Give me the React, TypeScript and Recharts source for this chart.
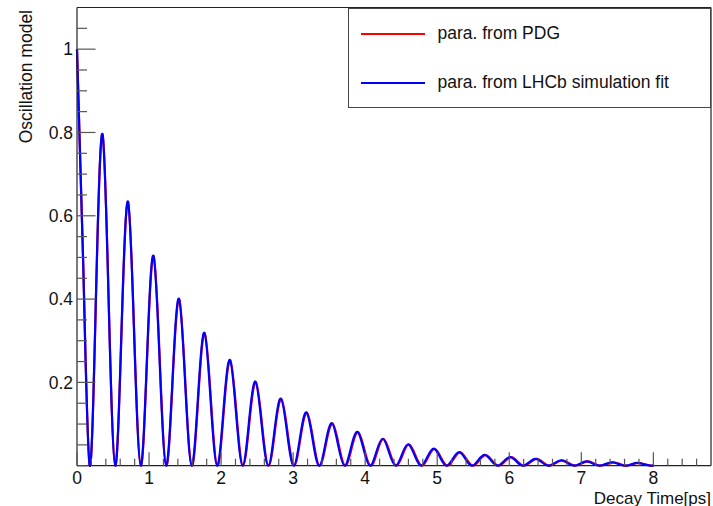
import { LineChart, Line, XAxis, YAxis, Legend, ReferenceLine } from "recharts";

// decay time [ps] and oscillation model value
const lhcbTime = [
  0, 0.088, 0.177, 0.265, 0.354, 0.442, 0.531, 0.619, 0.708, 0.796, 0.885, 0.973, 1.061, 1.15, 1.238, 1.327,
  1.415, 1.504, 1.592, 1.681, 1.769, 1.857, 1.946, 2.034, 2.123, 2.211, 2.3, 2.388, 2.477, 2.565, 2.654, 2.742,
  2.83, 2.919, 3.007, 3.096, 3.184, 3.273, 3.361, 3.45, 3.538, 3.626, 3.715, 3.803, 3.892, 3.98, 4.069, 4.157,
  4.246, 4.334, 4.423, 4.511, 4.599, 4.688, 4.776, 4.865, 4.953, 5.042, 5.13, 5.219, 5.307, 5.395, 5.484, 5.572,
  5.661, 5.749, 5.838, 5.926, 6.015, 6.103, 6.192, 6.28, 6.368, 6.457, 6.545, 6.634, 6.722, 6.811, 6.899, 6.988,
  7.076, 7.164, 7.253, 7.341, 7.43, 7.518, 7.607, 7.695, 7.784, 7.872, 7.961, 8.0,
];
const lhcbValue = [
  1, 0.472, 0, 0.421, 0.796, 0.376, 0, 0.335, 0.634, 0.299, 0, 0.267, 0.504, 0.238, 0, 0.212,
  0.401, 0.19, 0, 0.169, 0.319, 0.151, 0, 0.135, 0.254, 0.12, 0, 0.107, 0.202, 0.0956, 0, 0.0853,
  0.161, 0.0761, 0, 0.0679, 0.128, 0.0605, 0, 0.054, 0.102, 0.0482, 0, 0.043, 0.0812, 0.0383, 0, 0.0342,
  0.0646, 0.0305, 0, 0.0272, 0.0514, 0.0243, 0, 0.0217, 0.0409, 0.0193, 0, 0.0172, 0.0326, 0.0154, 0, 0.0137,
  0.0259, 0.0122, 0, 0.0109, 0.0206, 0.0097, 0, 0.0087, 0.0164, 0.0077, 0, 0.0069, 0.0131, 0.0062, 0, 0.0055,
  0.0104, 0.0049, 0, 0.0044, 0.0083, 0.0039, 0, 0.0035, 0.0066, 0.0031, 0, 0.0007,
];

const pdgTime = [
  0, 0.089, 0.177, 0.266, 0.355, 0.443, 0.532, 0.621, 0.709, 0.798, 0.887, 0.975, 1.064, 1.153, 1.241, 1.33,
  1.419, 1.507, 1.596, 1.685, 1.773, 1.862, 1.951, 2.039, 2.128, 2.217, 2.305, 2.394, 2.483, 2.571, 2.66, 2.749,
  2.837, 2.926, 3.015, 3.103, 3.192, 3.281, 3.369, 3.458, 3.547, 3.636, 3.724, 3.813, 3.902, 3.99, 4.079, 4.168,
  4.256, 4.345, 4.434, 4.522, 4.611, 4.7, 4.788, 4.877, 4.966, 5.054, 5.143, 5.232, 5.32, 5.409, 5.498, 5.586,
  5.675, 5.764, 5.852, 5.941, 6.03, 6.118, 6.207, 6.296, 6.384, 6.473, 6.562, 6.65, 6.739, 6.828, 6.916, 7.005,
  7.094, 7.182, 7.271, 7.36, 7.448, 7.537, 7.626, 7.714, 7.803, 7.892, 7.98, 8.0,
];
const pdgValue = [
  1, 0.472, 0, 0.421, 0.795, 0.375, 0, 0.334, 0.633, 0.298, 0, 0.266, 0.503, 0.237, 0, 0.212,
  0.4, 0.189, 0, 0.168, 0.318, 0.15, 0, 0.134, 0.253, 0.119, 0, 0.106, 0.201, 0.095, 0, 0.0848,
  0.16, 0.0756, 0, 0.0674, 0.127, 0.06, 0, 0.0536, 0.101, 0.0478, 0, 0.0426, 0.0805, 0.038, 0, 0.0339,
  0.064, 0.0302, 0, 0.0269, 0.0509, 0.024, 0, 0.0214, 0.0405, 0.0191, 0, 0.017, 0.0322, 0.0152, 0, 0.0135,
  0.0256, 0.0121, 0, 0.0108, 0.0204, 0.0096, 0, 0.0086, 0.0162, 0.0076, 0, 0.0068, 0.0129, 0.0061, 0, 0.0054,
  0.0102, 0.0048, 0, 0.0043, 0.0082, 0.0038, 0, 0.0034, 0.0065, 0.003, 0, 0.0001,
];

const xTicks = [
  0, 0.2, 0.4, 0.6, 0.8, 1, 1.2, 1.4, 1.6, 1.8, 2, 2.2, 2.4, 2.6, 2.8, 3, 3.2, 3.4, 3.6, 3.8, 4, 4.2, 4.4,
  4.6, 4.8, 5, 5.2, 5.4, 5.6, 5.8, 6, 6.2, 6.4, 6.6, 6.8, 7, 7.2, 7.4, 7.6, 7.8, 8, 8.2, 8.4, 8.6,
];
const xLabels = [0, 1, 2, 3, 4, 5, 6, 7, 8];
const yTicks = [
  0, 0.05, 0.1, 0.15, 0.2, 0.25, 0.3, 0.35, 0.4, 0.45, 0.5, 0.55, 0.6, 0.65, 0.7, 0.75, 0.8, 0.85, 0.9,
  0.95, 1, 1.05,
];
const yLabels = [0.2, 0.4, 0.6, 0.8, 1];
const legendOrder = ["para. from PDG", "para. from LHCb simulation fit"];

const lhcbData = lhcbTime.map((t, i) => ({ t, v: lhcbValue[i] }));
const pdgData = pdgTime.map((t, i) => ({ t, v: pdgValue[i] }));

const FONT = "'Liberation Sans', Arial, Helvetica, sans-serif";
const TICK = "#555";
const LEFT = 77;
const BOTTOM = 465.7;

const XTick = (props: any) => {
  const { x, payload } = props;
  const v = payload.value;
  const major = xLabels.some((l) => Math.abs(l - v) < 1e-6);
  return (
    <g>
      <line x1={x} x2={x} y1={BOTTOM} y2={BOTTOM - (major ? 13.5 : 7)} stroke={TICK} strokeWidth={1.2} />
      {major && (
        <text x={x} y={BOTTOM + 18} textAnchor="middle" fontSize={17.5} fontFamily={FONT} fill="#111">
          {v}
        </text>
      )}
    </g>
  );
};

const YTick = (props: any) => {
  const { y, payload } = props;
  const v = payload.value;
  const major = yLabels.some((l) => Math.abs(l - v) < 1e-6);
  return (
    <g>
      <line x1={LEFT} x2={LEFT + (major ? 18.5 : 10)} y1={y} y2={y} stroke={TICK} strokeWidth={1.2} />
      {major && (
        <text x={LEFT - 4} y={y} dy="0.36em" textAnchor="end" fontSize={17.5} fontFamily={FONT} fill="#111">
          {v}
        </text>
      )}
    </g>
  );
};

const LegendBox = (props: any) => {
  const items = [...(props.payload || [])].sort(
    (a: any, b: any) => legendOrder.indexOf(a.value) - legendOrder.indexOf(b.value)
  );
  return (
    <div
      style={{
        width: 363,
        height: 100,
        border: "1px solid #444",
        background: "#fff",
        position: "relative",
        boxSizing: "border-box",
        fontFamily: FONT,
        fontSize: 17.5,
        color: "#111",
      }}
    >
      {items.map((it: any, i: number) => (
        <div key={i} style={{ position: "absolute", left: 12, top: 14 + i * 49, height: 22, display: "flex", alignItems: "center" }}>
          <svg width={64} height={4}>
            <line x1={0} x2={64} y1={2} y2={2} stroke={it.color} strokeWidth={2} />
          </svg>
          <span style={{ marginLeft: 13, whiteSpace: "nowrap" }}>{it.value}</span>
        </div>
      ))}
    </div>
  );
};

export default function App() {
  return (
    <div style={{ position: "absolute", left: 0, top: 0, width: 713, height: 506, background: "#fff" }}>
      <LineChart width={713} height={506} margin={{ top: 7.5, right: 2, left: 17, bottom: 10.3 }}>
        <XAxis
          type="number"
          dataKey="t"
          domain={[0, 8.8]}
          ticks={xTicks}
          interval={0}
          tickLine={false}
          height={30}
          axisLine={{ stroke: "#222", strokeWidth: 1.2 }}
          tick={XTick}
          allowDuplicatedCategory={false}
          label={{
            content: () => (
              <text x={711} y={503.5} textAnchor="end" fontSize={17} fontFamily={FONT} fill="#111">
                Decay Time[ps]
              </text>
            ),
          }}
        />
        <YAxis
          type="number"
          domain={[0, 1.1]}
          ticks={yTicks}
          interval={0}
          tickLine={false}
          width={60}
          axisLine={{ stroke: "#222", strokeWidth: 1.2 }}
          tick={YTick}
          label={{
            content: () => (
              <text
                x={31.5}
                y={10}
                transform="rotate(-90 31.5 10)"
                textAnchor="end"
                fontSize={17.5}
                fontFamily={FONT}
                fill="#111"
              >
                Oscillation model
              </text>
            ),
          }}
        />
        <ReferenceLine y={1.1} stroke="#222" strokeWidth={1.2} />
        <ReferenceLine x={8.8} stroke="#222" strokeWidth={1.2} />
        <Line
          data={pdgData}
          dataKey="v"
          name="para. from PDG"
          type="natural"
          stroke="#ff0000"
          strokeWidth={2.2}
          dot={false}
          activeDot={false}
          isAnimationActive={false}
        />
        <Line
          data={lhcbData}
          dataKey="v"
          name="para. from LHCb simulation fit"
          type="natural"
          stroke="#0000ff"
          strokeWidth={2.2}
          dot={false}
          activeDot={false}
          isAnimationActive={false}
        />
        <Legend
          layout="vertical"
          verticalAlign="middle"
          align="center"
          content={LegendBox}
          wrapperStyle={{ position: "absolute", left: 347.5, top: 7.5, width: 363, height: 100 }}
        />
      </LineChart>
    </div>
  );
}
